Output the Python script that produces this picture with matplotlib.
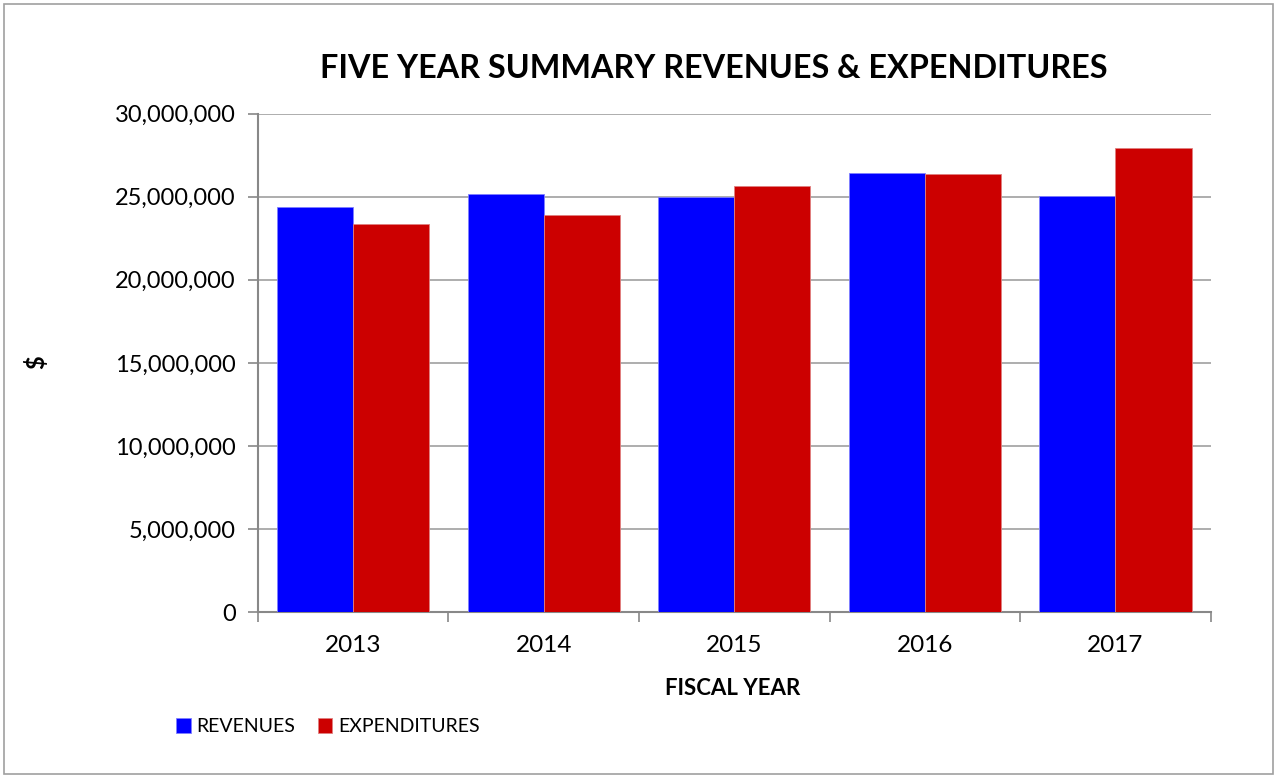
import matplotlib.pyplot as plt
import numpy as np
from matplotlib.patches import Rectangle
from matplotlib.ticker import FuncFormatter, MultipleLocator

plt.rcParams['font.family'] = ['Lato', 'DejaVu Sans']

# Data
years = ['2013', '2014', '2015', '2016', '2017']
revenues = [24380000, 25160000, 25000000, 26430000, 25060000]
expenditures = [23360000, 23880000, 25650000, 26390000, 27930000]

fig = plt.figure(figsize=(12.77, 7.78), dpi=100)
ax = fig.add_axes([0.202, 0.213, 0.746, 0.641])

x = np.arange(len(years))
w = 0.4
ax.bar(x - w / 2, revenues, w, color='#0000ff', edgecolor='#8080ff', linewidth=0.6,
       label='REVENUES', zorder=3)
ax.bar(x + w / 2, expenditures, w, color='#cc0000', edgecolor='#e08080', linewidth=0.6,
       label='EXPENDITURES', zorder=3)

ax.set_xlim(-0.5, len(years) - 0.5)
ax.set_ylim(0, 30000000)
ax.yaxis.set_major_locator(MultipleLocator(5000000))
ax.yaxis.set_major_formatter(FuncFormatter(lambda v, p: f'{int(v):,}'))
ax.grid(axis='y', color='#a0a0a0', linewidth=1.2, zorder=0)

# category ticks at boundaries, labels centered
ax.set_xticks(np.arange(-0.5, len(years)), minor=False)
ax.set_xticklabels([])
ax.set_xticks(x, minor=True)
ax.set_xticklabels(years, minor=True)
ax.tick_params(axis='x', which='minor', length=0, labelsize=17.5, pad=16)
ax.tick_params(axis='x', which='major', length=7, color='#888888', width=1.2)
ax.tick_params(axis='y', length=7, color='#888888', width=1.2, labelsize=17, pad=9)

for s in ['top', 'right']:
    ax.spines[s].set_visible(False)
for s in ['left', 'bottom']:
    ax.spines[s].set_color('#888888')
    ax.spines[s].set_linewidth(1.5)

fig.text(0.559, 0.912, 'FIVE YEAR SUMMARY REVENUES & EXPENDITURES',
         ha='center', va='center', fontsize=23.3, fontweight='bold')
fig.text(0.574, 0.115, 'FISCAL YEAR', ha='center', va='center',
         fontsize=16, fontweight='bold')
fig.text(0.028, 0.535, '$', ha='center', va='center', rotation=90,
         fontsize=17, fontweight='bold')

ax.legend(loc='upper left', bbox_to_anchor=(-0.094, -0.197), ncol=2, frameon=False,
          fontsize=14, handlelength=0.75, handleheight=0.75, handletextpad=0.3,
          columnspacing=1.15, borderaxespad=0)

# figure border
fig.patches.append(Rectangle((0.003, 0.005), 0.994, 0.99, transform=fig.transFigure,
                             fill=False, edgecolor='#a0a0a0', linewidth=1.2))

plt.savefig('out.png', dpi=100)
